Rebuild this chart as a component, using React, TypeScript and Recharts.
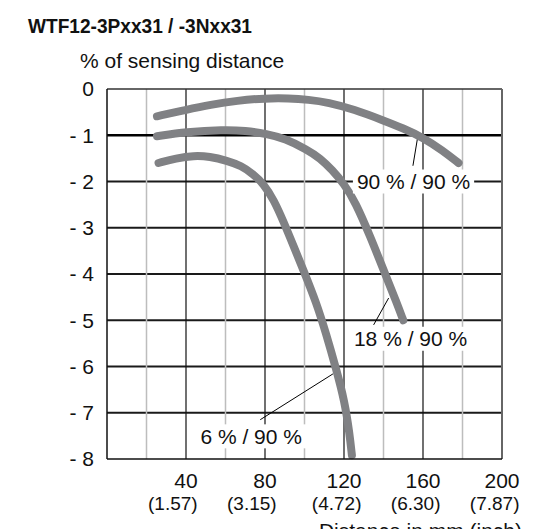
import { Line, LineChart, ReferenceDot, ReferenceLine, XAxis, YAxis } from "recharts";

const SANS = "'Liberation Sans', Arial, sans-serif";
const CURVE = "#808184";

// sensing range curves, x = distance in mm, y = % of sensing distance
const curve90 = [
  { x: 25.3, y: -0.59 },
  { x: 40, y: -0.45 },
  { x: 52.3, y: -0.34 },
  { x: 66, y: -0.25 },
  { x: 80, y: -0.2 },
  { x: 92, y: -0.2 },
  { x: 102, y: -0.23 },
  { x: 112, y: -0.29 },
  { x: 125, y: -0.44 },
  { x: 140, y: -0.68 },
  { x: 150, y: -0.85 },
  { x: 160, y: -1.05 },
  { x: 170, y: -1.33 },
  { x: 178, y: -1.6 },
];

const curve18 = [
  { x: 25.3, y: -1.02 },
  { x: 40, y: -0.93 },
  { x: 59, y: -0.88 },
  { x: 70, y: -0.9 },
  { x: 81, y: -0.97 },
  { x: 90, y: -1.07 },
  { x: 101.3, y: -1.31 },
  { x: 108, y: -1.5 },
  { x: 114, y: -1.75 },
  { x: 120, y: -2.05 },
  { x: 125.7, y: -2.44 },
  { x: 133.3, y: -3.19 },
  { x: 140, y: -3.91 },
  { x: 146.8, y: -4.63 },
  { x: 150, y: -5.0 },
];

const curve6 = [
  { x: 26.1, y: -1.6 },
  { x: 35, y: -1.5 },
  { x: 43.9, y: -1.44 },
  { x: 52, y: -1.46 },
  { x: 60.8, y: -1.55 },
  { x: 68, y: -1.66 },
  { x: 74, y: -1.84 },
  { x: 79.3, y: -2.05 },
  { x: 84.5, y: -2.4 },
  { x: 89.5, y: -2.88 },
  { x: 94.5, y: -3.4 },
  { x: 99.5, y: -3.92 },
  { x: 106, y: -4.62 },
  { x: 111, y: -5.3 },
  { x: 116, y: -6.05 },
  { x: 120.3, y: -6.75 },
  { x: 122.8, y: -7.45 },
  { x: 124, y: -7.92 },
];

const xTicks = [40, 80, 120, 160, 200];
const xInch = ["(1.57)", "(3.15)", "(4.72)", "(6.30)", "(7.87)"];
const yTicks = [0, -1, -2, -3, -4, -5, -6, -7, -8];
const yGrid = [-2, -3, -4, -5, -6, -7];
const xMajor = [40, 80, 120, 160];
const xMinor = [20, 60, 100, 140, 180];

// curve labels: text centre and leader line (data coords)
const labels = [
  { text: "90 % / 90 %", x: 155.2, y: -2.0, from: { x: 154.9, y: -1.66 }, to: { x: 157.5, y: -0.99 } },
  { text: "18 % / 90 %", x: 153.7, y: -5.4, from: { x: 135, y: -5.1 }, to: { x: 142.6, y: -4.52 } },
  { text: "6 % / 90 %", x: 73, y: -7.51, from: { x: 77.6, y: -7.15 }, to: { x: 114.4, y: -6.16 } },
];

const CW: Record<string, number> = { "%": 0.889, " ": 0.278, "/": 0.278 };
function textWidth(s: string, size: number) {
  return s.split("").reduce((w, c) => w + (CW[c] ?? 0.556), 0) * size;
}

function XTick({ x, y, payload }: any) {
  const v = payload.value;
  const label = String(v);
  const right = x + textWidth(label, 21) / 2;
  return (
    <g fontFamily={SANS} fill="#111">
      <text x={x} y={y + 29} textAnchor="middle" fontSize={21}>
        {label}
      </text>
      <text x={right} y={y + 51} textAnchor="end" fontSize={19}>
        {xInch[xTicks.indexOf(v)]}
      </text>
    </g>
  );
}

function CurveLabel({ cx, cy, text }: any) {
  const w = textWidth(text, 21);
  return (
    <g>
      <rect x={cx - w / 2 - 4} y={cy - 12} width={w + 8} height={24} fill="#fff" />
      <text x={cx} y={cy + 7.5} textAnchor="middle" fontSize={21} fontFamily={SANS} fill="#111">
        {text}
      </text>
    </g>
  );
}

export default function App() {
  return (
    <div style={{ position: "absolute", left: 0, top: 0, width: 548, height: 529, background: "#fff" }}>
      <LineChart width={548} height={529} margin={{ top: 89, right: 46, bottom: 0, left: 0 }}>
        {yGrid.map((v) => (
          <ReferenceLine key={"h" + v} y={v} stroke="#1a1a1a" strokeWidth={2} />
        ))}
        {xMinor.map((v) => (
          <ReferenceLine key={"mi" + v} x={v} stroke="#bdbdbd" strokeWidth={1.5} />
        ))}
        {xMajor.map((v) => (
          <ReferenceLine key={"ma" + v} x={v} stroke="#111" strokeWidth={1.2} />
        ))}
        <ReferenceLine y={-1} stroke="#000" strokeWidth={2.5} />
        <ReferenceLine y={0} stroke="#333" strokeWidth={1.5} />
        <ReferenceLine x={200} stroke="#666" strokeWidth={2} />
        <XAxis
          type="number"
          dataKey="x"
          domain={[0, 200]}
          ticks={xTicks}
          height={70}
          tickSize={0}
          tickMargin={0}
          tickLine={false}
          axisLine={{ stroke: "#111", strokeWidth: 1.5 }}
          tick={<XTick />}
        />
        <YAxis
          type="number"
          domain={[-8, 0]}
          ticks={yTicks}
          width={107}
          tickSize={0}
          tickMargin={13}
          tickLine={false}
          axisLine={{ stroke: "#111", strokeWidth: 1.5 }}
          tickFormatter={(v: number) => (v < 0 ? `- ${Math.abs(v)}` : String(v))}
          tick={{ fill: "#111", fontSize: 21, fontFamily: SANS }}
        />
        {labels.map((l) => (
          <ReferenceLine key={"ld" + l.text} segment={[l.from, l.to]} stroke="#000" strokeWidth={1} />
        ))}
        {labels.map((l) => (
          <ReferenceDot
            key={"lb" + l.text}
            x={l.x}
            y={l.y}
            r={0}
            shape={(p: any) => <CurveLabel cx={p.cx} cy={p.cy} text={l.text} />}
          />
        ))}
        <Line data={curve90} dataKey="y" type="basis" stroke={CURVE} strokeWidth={8} strokeLinecap="round" dot={false} isAnimationActive={false} />
        <Line data={curve18} dataKey="y" type="basis" stroke={CURVE} strokeWidth={8} strokeLinecap="round" dot={false} isAnimationActive={false} />
        <Line data={curve6} dataKey="y" type="basis" stroke={CURVE} strokeWidth={8} strokeLinecap="round" dot={false} isAnimationActive={false} />
      </LineChart>
      <svg width={548} height={529} style={{ position: "absolute", left: 0, top: 0, pointerEvents: "none" }}>
        <text
          x={28}
          y={33}
          fontSize={21}
          fontWeight="bold"
          fontFamily={SANS}
          textLength={224}
          lengthAdjust="spacingAndGlyphs"
          fill="#111"
        >
          WTF12-3Pxx31 / -3Nxx31
        </text>
        <text x={80} y={68} fontSize={21} fontFamily={SANS} fill="#111">
          % of sensing distance
        </text>
        <text x={522} y={538} textAnchor="end" fontSize={21} fontFamily={SANS} fill="#111">
          Distance in mm (inch)
        </text>
      </svg>
    </div>
  );
}
